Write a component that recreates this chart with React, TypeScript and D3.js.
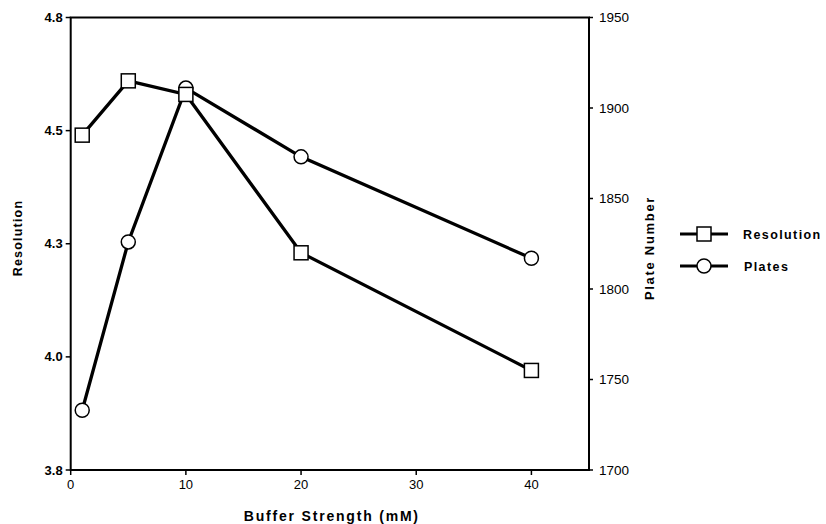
import React from "react";
import * as d3 from "d3";

const bufferStrength = [1, 5, 10, 20, 40];
const resolution = [4.49, 4.61, 4.58, 4.23, 3.97];
const plates = [1733, 1826, 1911, 1873, 1817];
const xTicks = [0, 10, 20, 30, 40];
const leftTicks = [3.75, 4.0, 4.25, 4.5, 4.75];
const rightTicks = [1700, 1750, 1800, 1850, 1900, 1950];

const W = 826;
const H = 524;
const L = 70.7, R = 589, T = 17.5, B = 470;

export default function App() {
  const x = d3.scaleLinear().domain([0, 45]).range([L, R]);
  const yL = d3.scaleLinear().domain([3.75, 4.75]).range([B, T]);
  const yR = d3.scaleLinear().domain([1700, 1950]).range([B, T]);
  const fmt = d3.format(".1f");
  const lineRes = d3.line<number>().x((_, i) => x(bufferStrength[i])).y((d) => yL(d));
  const linePl = d3.line<number>().x((_, i) => x(bufferStrength[i])).y((d) => yR(d));
  const font = "'Liberation Sans', Arial, sans-serif";
  const sq = 14;
  const cr = 7;
  return (
    <svg width={W} height={H} style={{ position: "absolute", left: 0, top: 0, background: "#fff" }} fontFamily={font}>
      <rect x={0} y={0} width={W} height={H} fill="#fff" />
      <path d={`M${L},${T}H${R}V${B}H${L}Z`} fill="none" stroke="#000" strokeWidth={2} />
      {xTicks.map((t) => (
        <g key={"x" + t}>
          <line x1={x(t)} x2={x(t)} y1={B} y2={B + 5} stroke="#000" strokeWidth={1.5} />
          <text x={x(t)} y={B + 19} textAnchor="middle" fontSize={13} fill="#000">{t}</text>
        </g>
      ))}
      {leftTicks.map((t) => (
        <g key={"l" + t}>
          <line x1={L - 5} x2={L} y1={yL(t)} y2={yL(t)} stroke="#000" strokeWidth={1.5} />
          <text x={L - 8} y={yL(t) + 4.5} textAnchor="end" fontSize={13} fontWeight="bold" fill="#000">{fmt(t)}</text>
        </g>
      ))}
      {rightTicks.map((t) => (
        <g key={"r" + t}>
          <line x1={R} x2={R + 4} y1={yR(t)} y2={yR(t)} stroke="#000" strokeWidth={1.5} />
          <text x={R + 10} y={yR(t) + 4.5} textAnchor="start" fontSize={13.5} fill="#000">{t}</text>
        </g>
      ))}
      <text x={(L + R) / 2 + 2} y={521} textAnchor="middle" fontSize={14} fontWeight="bold" letterSpacing={1.8} fill="#000">Buffer Strength (mM)</text>
      <text transform={`translate(22,238) rotate(-90)`} textAnchor="middle" fontSize={12.5} fontWeight="bold" letterSpacing={1.2} fill="#000">Resolution</text>
      <text transform={`translate(654,248) rotate(-90)`} textAnchor="middle" fontSize={13} fontWeight="bold" letterSpacing={1.7} fill="#000">Plate Number</text>
      <path d={linePl(plates) || ""} fill="none" stroke="#000" strokeWidth={3.3} />
      <path d={lineRes(resolution) || ""} fill="none" stroke="#000" strokeWidth={3.3} />
      {plates.map((v, i) => (
        <circle key={"c" + i} cx={x(bufferStrength[i])} cy={yR(v)} r={cr} fill="#fff" stroke="#000" strokeWidth={1.5} />
      ))}
      {resolution.map((v, i) => (
        <rect key={"s" + i} x={x(bufferStrength[i]) - sq / 2} y={yL(v) - sq / 2} width={sq} height={sq} fill="#fff" stroke="#000" strokeWidth={1.5} />
      ))}
      <g>
        <line x1={680} x2={728} y1={234} y2={234} stroke="#000" strokeWidth={3} />
        <rect x={704 - sq / 2} y={234 - sq / 2} width={sq} height={sq} fill="#fff" stroke="#000" strokeWidth={1.5} />
        <text x={743} y={238.5} fontSize={12.5} fontWeight="bold" letterSpacing={1.4} fill="#000">Resolution</text>
        <line x1={680} x2={728} y1={266} y2={266} stroke="#000" strokeWidth={3} />
        <circle cx={704} cy={266} r={cr} fill="#fff" stroke="#000" strokeWidth={1.5} />
        <text x={744} y={270.5} fontSize={12.5} fontWeight="bold" letterSpacing={1.4} fill="#000">Plates</text>
      </g>
    </svg>
  );
}
